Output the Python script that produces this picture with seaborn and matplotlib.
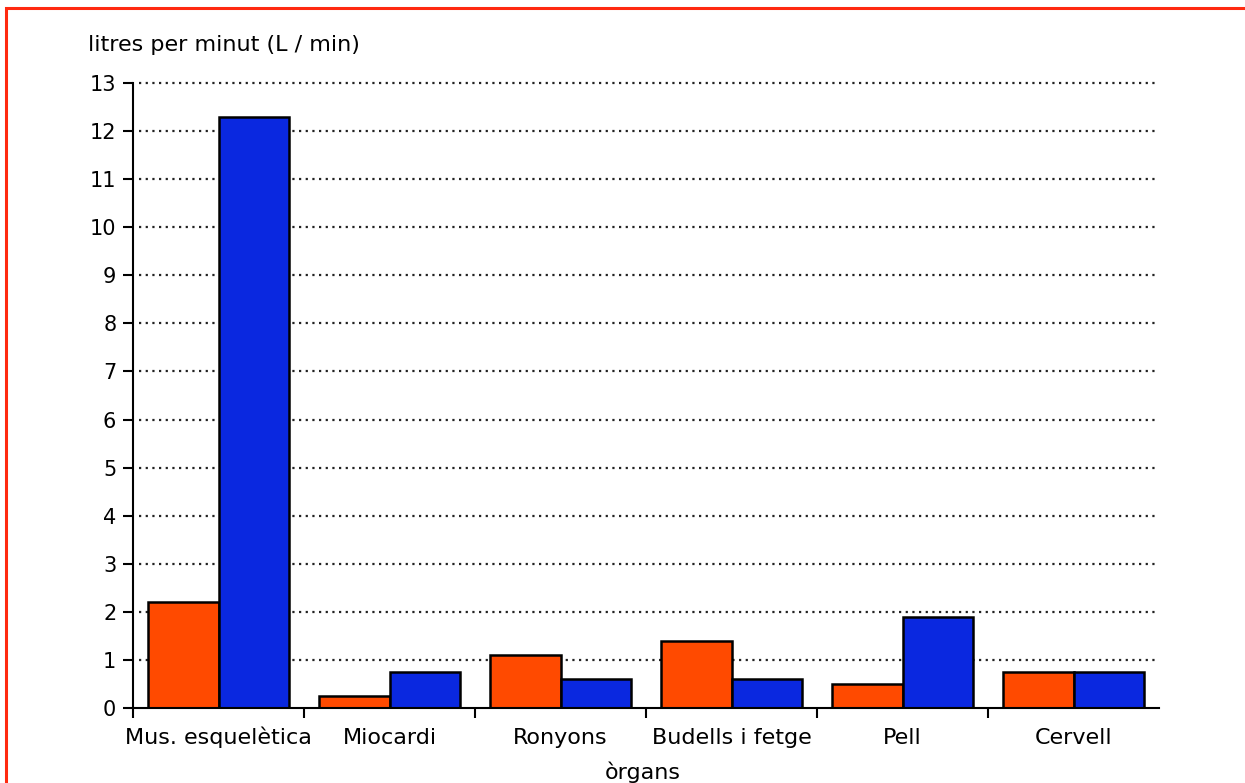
import matplotlib
matplotlib.use("Agg")
import matplotlib.pyplot as plt
from matplotlib.patches import Rectangle
from matplotlib.ticker import FixedLocator, NullFormatter
import seaborn as sns
import pandas as pd

# Blood flow per organ, at rest and during exercise (L/min)
organs = ["Mus. esquelètica", "Miocardi", "Ronyons", "Budells i fetge", "Pell", "Cervell"]
rest = [2.2, 0.25, 1.1, 1.4, 0.5, 0.75]
exercise = [12.3, 0.75, 0.6, 0.6, 1.9, 0.75]
states = ["repòs", "exercici"]
y_ticks = list(range(0, 14))

df = pd.DataFrame({
    "organ": organs * 2,
    "state": [states[0]] * len(organs) + [states[1]] * len(organs),
    "flow": rest + exercise,
})

sns.set_theme(style="white")
plt.rcParams["font.family"] = ["DejaVu Sans"]

W, H = 1245, 783
fig = plt.figure(figsize=(W / 100, H / 100), dpi=100)
ax = fig.add_axes([133 / W, 1 - 708 / H, 1026 / W, 625 / H])

sns.barplot(
    data=df, x="organ", y="flow", hue="state", order=organs, hue_order=states,
    palette=["#FF4A00", "#0A28E0"], width=0.82, gap=0, saturation=1,
    edgecolor="black", linewidth=1.8, legend=False, ax=ax, zorder=3,
)

ax.set_xlim(-0.5, len(organs) - 0.5)
ax.set_ylim(0, 13)
ax.set_xlabel("")
ax.set_ylabel("")

# y axis
ax.set_yticks(y_ticks)
ax.set_yticklabels([str(v) for v in y_ticks], fontsize=15, color="black")
ax.tick_params(axis="y", which="major", direction="out", length=7, width=1.5,
               color="black", pad=5, left=True)

# x axis: ticks on group boundaries, labels centred below groups
bounds = [i - 0.5 for i in range(len(organs))]
ax.xaxis.set_major_locator(FixedLocator(bounds))
ax.xaxis.set_major_formatter(NullFormatter())
ax.xaxis.set_minor_locator(FixedLocator(list(range(len(organs)))))
ax.set_xticklabels(organs, minor=True, fontsize=16, color="black")
ax.tick_params(axis="x", which="major", direction="out", length=7, width=1.5,
               color="black", bottom=True)
ax.tick_params(axis="x", which="minor", length=0, pad=26)
for lbl in ax.get_xticklabels(minor=True):
    lbl.set_verticalalignment("baseline")

for side in ["top", "right"]:
    ax.spines[side].set_visible(False)
for side in ["left", "bottom"]:
    ax.spines[side].set_color("black")
    ax.spines[side].set_linewidth(1.5)
    ax.spines[side].set_zorder(5)

# dotted horizontal grid
for v in y_ticks[1:]:
    ax.axhline(v, xmin=0.006, xmax=1.0, color="#222222", linestyle=(0, (1, 2)),
               linewidth=1.6, zorder=1, clip_on=False)

fig.text(88 / W, 1 - 45 / H, "litres per minut (L / min)", fontsize=16,
         va="center", ha="left", color="black")
fig.text(643 / W, 1 - 772 / H, "òrgans", fontsize=16, va="center", ha="center",
         color="black")

# red frame around the chart
fig.patches.append(Rectangle((6 / W, -0.05), 1.2, 1 - 8 / H + 0.05,
                             transform=fig.transFigure, fill=False,
                             edgecolor="#FF2A10", linewidth=2.2, zorder=10))

fig.savefig("out.png", dpi=100)
